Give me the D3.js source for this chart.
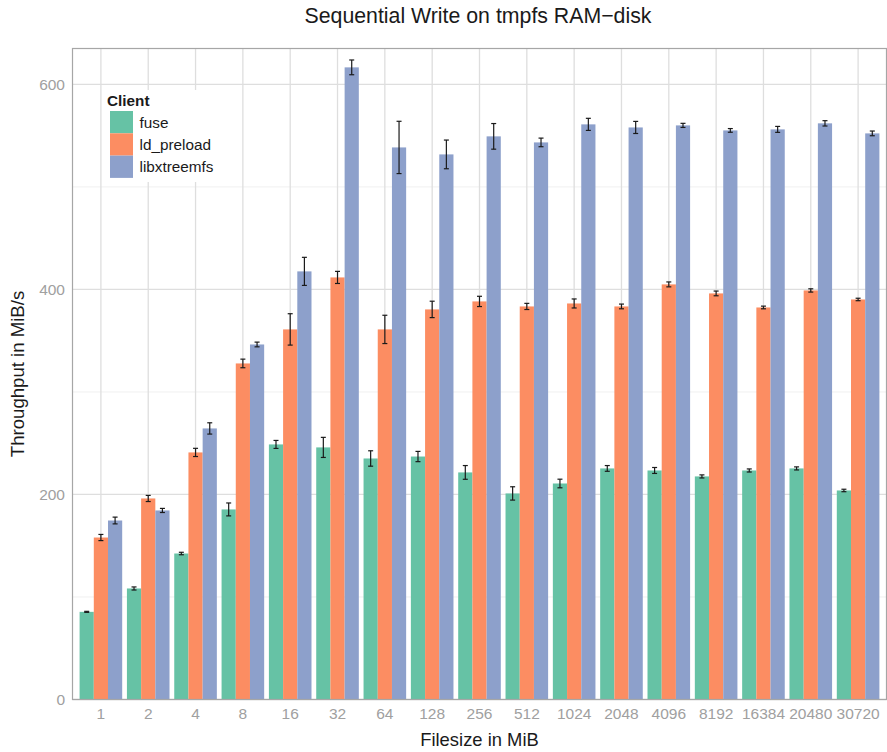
<!DOCTYPE html>
<html><head><meta charset="utf-8">
<script src="https://cdnjs.cloudflare.com/ajax/libs/d3/7.8.5/d3.min.js"></script>
<style>body{margin:0;background:#fff;} text{font-family:"Liberation Sans",Arial,sans-serif;}</style>
</head><body><svg id="c" width="887" height="752"></svg>
<script>
const categories = ["1","2","4","8","16","32","64","128","256","512","1024","2048","4096","8192","16384","20480","30720"];
const clients = ["fuse","ld_preload","libxtreemfs"];
const colors = ["#66c2a5","#fc8d62","#8da0cb"];
const fuseVals = [85.5,108.3,142.4,185.4,248.8,245.9,235.1,237,221.5,201,210.7,225.4,223.4,217.6,223.4,225.4,203.9];
const fuseErr  = [0.5,1.5,1.2,6.3,3.9,9.8,7.5,5,6.7,6.5,4.2,2.8,2.9,1.5,1.5,1.5,1.2];
const ldVals   = [158,196.1,241,327.8,361,411.7,361,380.5,388.3,383.4,386.3,383.4,404.9,396.1,382.4,399,390.2];
const ldErr    = [3,3,4,4.2,15.3,5.9,13.8,8,5,3,4.4,2.3,2.4,2.3,1.3,1.6,1.2];
const libVals  = [174.6,184.4,264.4,346.3,417.6,616.6,538.5,531.7,549.3,543.4,561,558,560,555.1,556.1,562,552.2];
const libErr   = [3.3,2,5.5,2.3,13.7,7.2,25.5,14,12.5,4.2,5.9,5.9,2,1.8,2.9,2.6,2.3];
const yTicks = [0,200,400,600];
const yMinor = [100,300,500];

const series = [fuseVals, ldVals, libVals];
const errs = [fuseErr, ldErr, libErr];
const data = [];
categories.forEach((c,i)=>clients.forEach((k,j)=>data.push({cat:c,client:k,v:series[j][i],e:errs[j][i],j})));

const svg = d3.select("#c");
const L=72.5, R=886.5, T=48.5, B=699.5;
// ggplot discrete scale: 0.6 units expansion each side
const step = (R-L)/(categories.length - 1 + 1.2);
const x = d3.scaleBand().domain(categories).range([L+0.1*step, R-0.1*step]).padding(0);
const y = d3.scaleLinear().domain([0,635]).range([B,T]);
const color = d3.scaleOrdinal().domain(clients).range(colors);
const inner = d3.scaleBand().domain(clients).range([x.bandwidth()*0.05, x.bandwidth()*0.95]);

const g = svg.append("g");
g.selectAll(".minor").data(yMinor).join("line").attr("x1",L).attr("x2",R)
 .attr("y1",d=>y(d)).attr("y2",d=>y(d)).attr("stroke","#f0f0f0").attr("stroke-width",1);
g.selectAll(".major").data(yTicks).join("line").attr("x1",L).attr("x2",R)
 .attr("y1",d=>y(d)).attr("y2",d=>y(d)).attr("stroke","#dedede").attr("stroke-width",1.3);
g.selectAll(".vmaj").data(categories).join("line")
 .attr("x1",d=>x(d)+x.bandwidth()/2).attr("x2",d=>x(d)+x.bandwidth()/2)
 .attr("y1",T).attr("y2",B).attr("stroke","#dedede").attr("stroke-width",1.3);

g.selectAll(".bar").data(data).join("rect")
 .attr("x",d=>x(d.cat)+inner(d.client)).attr("width",inner.bandwidth())
 .attr("y",d=>y(d.v)).attr("height",d=>y(0)-y(d.v)).attr("fill",d=>color(d.client));

const eb = g.selectAll(".eb").data(data).join("g").attr("stroke","#1a1a1a").attr("stroke-width",1.2);
const cx = d=>x(d.cat)+inner(d.client)+inner.bandwidth()/2;
const cw = 2.5;
eb.append("line").attr("x1",cx).attr("x2",cx).attr("y1",d=>y(d.v+d.e)).attr("y2",d=>y(d.v-d.e));
eb.append("line").attr("x1",d=>cx(d)-cw).attr("x2",d=>cx(d)+cw).attr("y1",d=>y(d.v+d.e)).attr("y2",d=>y(d.v+d.e));
eb.append("line").attr("x1",d=>cx(d)-cw).attr("x2",d=>cx(d)+cw).attr("y1",d=>y(d.v-d.e)).attr("y2",d=>y(d.v-d.e));

svg.append("rect").attr("x",L).attr("y",T).attr("width",R-L).attr("height",B-T)
 .attr("fill","none").attr("stroke","#a6a6a6").attr("stroke-width",1.2);

const yAxis = d3.axisLeft(y).tickValues(yTicks).tickSize(0).tickPadding(7.5);
const ya = svg.append("g").attr("transform",`translate(${L},0)`).call(yAxis);
ya.select(".domain").remove();
ya.selectAll("text").attr("fill","#a0a0a0").style("font-size","15.5px").style("font-family","Liberation Sans, Arial, sans-serif");
const xAxis = d3.axisBottom(x).tickSize(0).tickPadding(8);
const xa = svg.append("g").attr("transform",`translate(0,${B})`).call(xAxis);
xa.select(".domain").remove();
xa.selectAll("text").attr("fill","#a0a0a0").style("font-size","15.5px").style("font-family","Liberation Sans, Arial, sans-serif");

svg.append("text").attr("x",478).attr("y",23).attr("text-anchor","middle")
 .style("font-size","21.3px").attr("fill","#1a1a1a").text("Sequential Write on tmpfs RAM\u2212disk");
svg.append("text").attr("x",(L+R)/2).attr("y",746).attr("text-anchor","middle")
 .style("font-size","18.4px").attr("fill","#1a1a1a").text("Filesize in MiB");
svg.append("text").attr("transform",`translate(24,${(T+B)/2}) rotate(-90)`).attr("text-anchor","middle")
 .style("font-size","18.6px").attr("fill","#1a1a1a").text("Throughput in MiB/s");

const lg = svg.append("g").attr("transform","translate(105,90)");
lg.append("rect").attr("width",116).attr("height",92).attr("fill","#fff");
lg.append("text").attr("x",2).attr("y",16).style("font-size","15.3px").style("font-weight","bold").attr("fill","#1a1a1a").text("Client");
clients.forEach((k,i)=>{
  lg.append("rect").attr("x",5).attr("y",21+i*22.3).attr("width",23).attr("height",22.3).attr("fill",color(k));
  lg.append("text").attr("x",34.5).attr("y",37.5+i*22.3).style("font-size","15.3px").attr("fill","#1a1a1a").text(k);
});
</script></body></html>
